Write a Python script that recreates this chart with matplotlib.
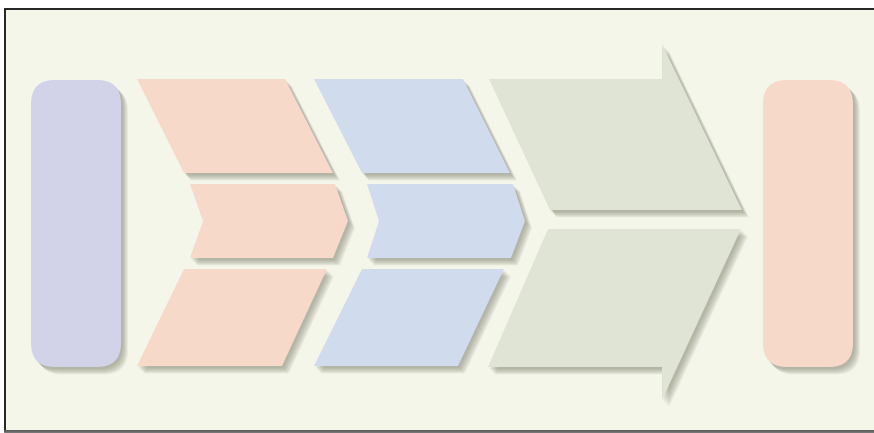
import matplotlib
matplotlib.use("Agg")
import matplotlib.pyplot as plt
from matplotlib.patches import Polygon, FancyBboxPatch, Rectangle

# ============================================================
# Shapes of the process diagram (pixel coords, y downwards)
# ============================================================

bar_left = (31, 80, 90, 287)      # x, y, width, height
bar_right = (763, 80, 90, 287)

salmon_top = [(137, 79), (285, 79), (333, 173), (184, 173)]
salmon_mid = [(190, 184), (335, 184), (348, 221), (333, 258), (190, 258), (203, 221)]
salmon_bot = [(184, 269), (327, 269), (282, 366), (137, 366)]

blue_top = [(314, 79), (463, 79), (510, 173), (362, 173)]
blue_mid = [(367, 184), (513, 184), (525, 221), (511, 258), (367, 258), (379, 221)]
blue_bot = [(362, 269), (504, 269), (458, 366), (314, 366)]

green_top = [(489, 79), (662, 79), (662, 44), (742, 210), (550, 210)]
green_bot = [(548, 229), (741, 229), (662, 400), (662, 367), (488, 367)]

bg_color = "#f4f6ea"
salmon = "#f7d9c9"
blue = "#d0dbee"
lavender = "#d2d3e8"
green = "#dfe4d4"
shadow = "#7e806e"

fig = plt.figure(figsize=(8.74, 4.33), dpi=100)
ax = fig.add_axes([0, 0, 1, 1])
ax.set_xlim(0, 874)
ax.set_ylim(433, 0)
ax.axis("off")

# fundo com moldura
ax.add_patch(Rectangle((5, 9), 880, 422, facecolor=bg_color, edgecolor="#222222", linewidth=1.4))
ax.plot([5, 874], [431, 431], color="#666666", linewidth=2)


def sombra_poly(pts):
    for k in range(7):
        d = 1.5 + k * 0.9
        moved = [(x + d, y + d + 0.5) for x, y in pts]
        ax.add_patch(Polygon(moved, closed=True, facecolor=shadow, edgecolor="none", alpha=0.1))


def sombra_box(b):
    x, y, w, h = b
    for k in range(7):
        d = 1.5 + k * 0.9
        ax.add_patch(FancyBboxPatch((x + d, y + d + 0.5), w, h, boxstyle="round,pad=0,rounding_size=24",
                                    facecolor=shadow, edgecolor="none", alpha=0.1))


for b, c in [(bar_left, lavender), (bar_right, salmon)]:
    sombra_box(b)
    x, y, w, h = b
    ax.add_patch(FancyBboxPatch((x, y), w, h, boxstyle="round,pad=0,rounding_size=24",
                                facecolor=c, edgecolor="none"))

formas = [
    (salmon_top, salmon), (salmon_mid, salmon), (salmon_bot, salmon),
    (blue_top, blue), (blue_mid, blue), (blue_bot, blue),
    (green_top, green), (green_bot, green),
]

for pts, c in formas:
    sombra_poly(pts)
for pts, c in formas:
    ax.add_patch(Polygon(pts, closed=True, facecolor=c, edgecolor="none"))

fig.savefig("out.png", dpi=100, facecolor="white")
